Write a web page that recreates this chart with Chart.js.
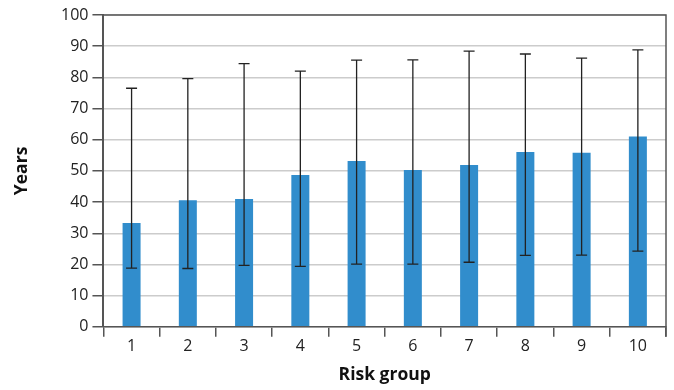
<!DOCTYPE html>
<html lang="en">
<head>
    <meta charset="UTF-8">
    <title>Years by risk group</title>
    <script src="https://cdn.jsdelivr.net/npm/chart.js"></script>
    <style>
        body {
            margin: 0;
            padding: 0;
            background: white;
        }
        canvas {
            display: block;
        }
    </style>
</head>
<body>
    <canvas id="riskChart" width="674" height="390"></canvas>

    <script>
        const riskGroups = ['1', '2', '3', '4', '5', '6', '7', '8', '9', '10'];
        const meanYears = [33.3, 40.6, 41.0, 48.7, 53.2, 50.3, 51.9, 56.1, 55.8, 61.0];
        const upperYears = [76.5, 79.6, 84.4, 82.0, 85.5, 85.6, 88.4, 87.5, 86.2, 88.8];
        const lowerYears = [18.8, 18.7, 19.7, 19.4, 20.1, 20.1, 20.7, 22.9, 23.0, 24.3];

        const axisColor = '#555555';
        const fontFamily = '"Open Sans", "Noto Sans", sans-serif';

        // Error bars + frame on top/right
        const errorBars = {
            id: 'errorBars',
            afterDatasetsDraw(chart) {
                const ctx = chart.ctx;
                const y = chart.scales.y;
                const meta = chart.getDatasetMeta(0);
                ctx.save();
                ctx.strokeStyle = '#222222';
                ctx.lineWidth = 1.3;
                meta.data.forEach((bar, i) => {
                    const top = y.getPixelForValue(upperYears[i]);
                    const bottom = y.getPixelForValue(lowerYears[i]);
                    ctx.beginPath();
                    ctx.moveTo(bar.x, top);
                    ctx.lineTo(bar.x, bottom);
                    ctx.moveTo(bar.x - 5.5, top);
                    ctx.lineTo(bar.x + 5.5, top);
                    ctx.moveTo(bar.x - 5.5, bottom);
                    ctx.lineTo(bar.x + 5.5, bottom);
                    ctx.stroke();
                });
                const area = chart.chartArea;
                ctx.strokeStyle = axisColor;
                ctx.lineWidth = 1.5;
                ctx.beginPath();
                ctx.moveTo(area.left, area.top);
                ctx.lineTo(area.right, area.top);
                ctx.lineTo(area.right, area.bottom + 10);
                ctx.stroke();
                ctx.restore();
            }
        };

        const ctx = document.getElementById('riskChart').getContext('2d');
        new Chart(ctx, {
            type: 'bar',
            data: {
                labels: riskGroups,
                datasets: [{
                    label: 'Years',
                    data: meanYears,
                    backgroundColor: '#318dcc',
                    barPercentage: 0.32,
                    categoryPercentage: 1.0
                }]
            },
            options: {
                responsive: false,
                animation: false,
                layout: { padding: { top: 15, right: 8, left: 12, bottom: 4 } },
                plugins: {
                    legend: { display: false },
                    tooltip: { enabled: false }
                },
                scales: {
                    x: {
                        grid: {
                            offset: true,
                            drawOnChartArea: false,
                            drawTicks: true,
                            tickLength: 10,
                            tickColor: axisColor,
                            lineWidth: 1.5
                        },
                        border: { color: axisColor, width: 1.5 },
                        ticks: {
                            color: '#222222',
                            font: { family: fontFamily, size: 16 },
                            padding: 0,
                            maxRotation: 0,
                            autoSkip: false
                        },
                        title: {
                            display: true,
                            text: 'Risk group',
                            color: '#111111',
                            font: { family: fontFamily, size: 17.5, weight: 'bold' },
                            padding: { top: 9, bottom: 0 }
                        }
                    },
                    y: {
                        min: 0,
                        max: 100,
                        ticks: {
                            stepSize: 10,
                            autoSkip: false,
                            color: '#222222',
                            font: { family: fontFamily, size: 16 },
                            padding: 4
                        },
                        grid: {
                            color: '#cccccc',
                            lineWidth: 1.5,
                            tickLength: 11,
                            tickColor: axisColor
                        },
                        border: { color: axisColor, width: 2 },
                        title: {
                            display: true,
                            text: 'Years',
                            color: '#111111',
                            font: { family: fontFamily, size: 17.5, weight: 'bold' },
                            padding: { top: 0, bottom: 24 }
                        }
                    }
                }
            },
            plugins: [errorBars]
        });
    </script>
</body>
</html>
